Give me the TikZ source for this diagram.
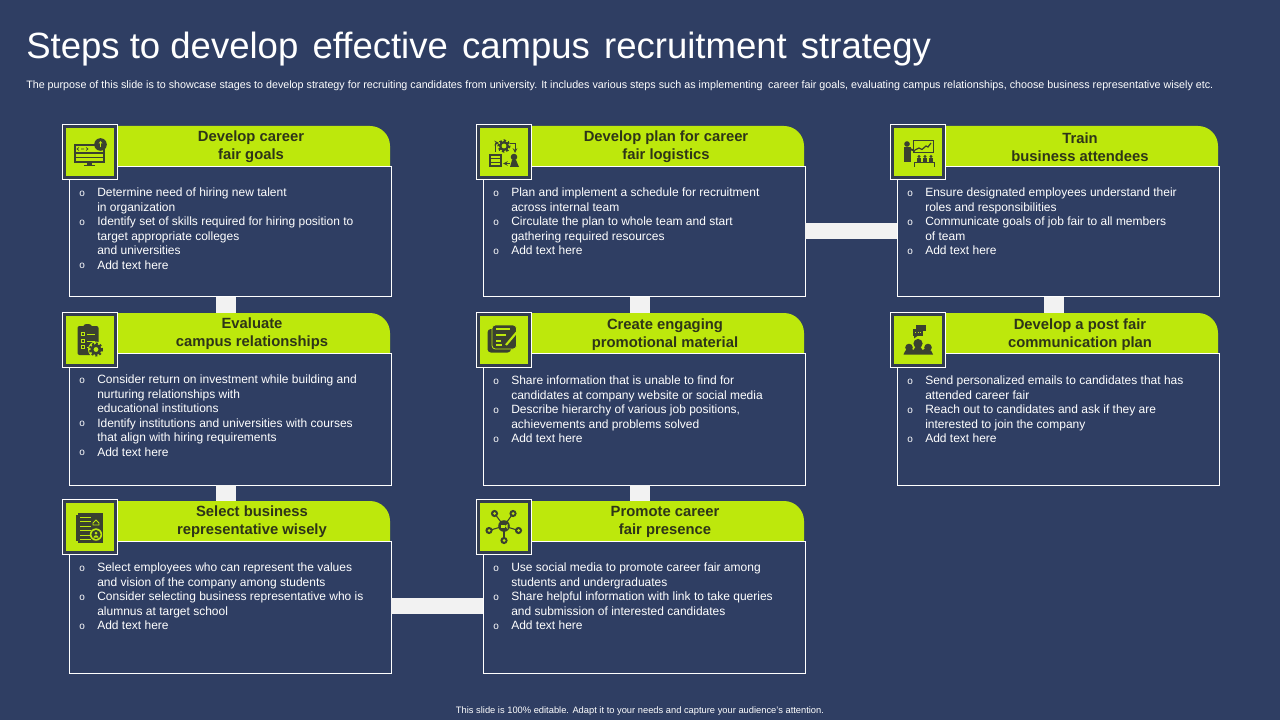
\documentclass[tikz,border=0pt]{standalone}
\usepackage{fontspec}
\setmainfont{Liberation Sans}
\usetikzlibrary{calc}

\definecolor{slidebg}{HTML}{2F3E63}
\definecolor{limehead}{HTML}{BDE80C}
\definecolor{darkink}{HTML}{2E3518}
\definecolor{icondark}{HTML}{3A4130}
\definecolor{framedark}{HTML}{333D50}
\definecolor{barwhite}{HTML}{F2F2F2}

\newcommand{\bl}{\makebox[13.5pt][l]{\raisebox{0.3pt}{\fontsize{7.5}{8}\selectfont o}}}
\newcommand{\cn}{\hspace*{13.5pt}}

\tikzset{
  headfill/.style={fill=limehead},
  cardbody/.style={draw=white, line width=0.7pt, fill=slidebg, minimum width=241.5pt, inner sep=0pt, outer sep=0pt},
  headtext/.style={font=\fontsize{11.1}{13.4}\selectfont\bfseries, text=darkink, align=center, minimum height=30pt, inner sep=0pt},
  bodytext/.style={font=\fontsize{9}{10.85}\selectfont, text=white, align=left, anchor=north west, inner sep=0pt},
  iconframe/.style={draw=white, line width=0.8pt, fill=framedark, minimum size=41.5pt, inner sep=0pt},
  iconbox/.style={fill=limehead, minimum size=35.5pt, inner sep=0pt},
  linkbar/.style={draw=barwhite},
  inkfill/.style={fill=icondark},
  inkline/.style={draw=icondark, line width=0.8pt},
  cutline/.style={draw=limehead, line width=0.6pt},
}

\begin{document}
\begin{tikzpicture}[x=0.75pt, y=-0.75pt]
\fill[slidebg] (0,0) rectangle (1280,720);
\useasboundingbox (0,0) rectangle (1280,720);

% title lines
\node[anchor=west, inner sep=0pt, text=white, font=\fontsize{27.4}{30}\selectfont] (title) at (26,49.5)
  {Steps to develop\hspace{3pt} effective\hspace{3pt} campus\hspace{3pt} recruitment\hspace{3pt} strategy};
\node[anchor=west, inner sep=0pt, text=white, font=\fontsize{8.05}{9}\selectfont] (subtitle) at (26,86)
  {The purpose of this slide is to showcase stages to develop strategy for recruiting candidates from university. It includes various steps such as implementing\hspace{2pt} career fair goals, evaluating campus relationships, choose business representative wisely etc.};
\node[inner sep=0pt, text=white, font=\fontsize{7}{8}\selectfont] (footer) at (640,711)
  {This slide is 100\% editable. Adapt it to your needs and capture your audience's attention.};

% card bodies
\node[cardbody, minimum height=98pt] (goalsbody) at (230,231.5) {};
\node[cardbody, minimum height=98pt] (logibody) at (644,231.5) {};
\node[cardbody, minimum height=98pt] (trainbody) at (1058,231.5) {};
\node[cardbody, minimum height=99pt] (evalbody) at (230,419) {};
\node[cardbody, minimum height=99pt] (promobody) at (644,419) {};
\node[cardbody, minimum height=99pt] (postbody) at (1058,419) {};
\node[cardbody, minimum height=99pt] (selectbody) at (230,607) {};
\node[cardbody, minimum height=99pt] (presbody) at (644,607) {};

% bars between the cards
\draw[linkbar, line width=15pt] ([xshift=-3pt]goalsbody.south) -- ([xshift=-3pt]evalbody.north);
\draw[linkbar, line width=15pt] ([xshift=-3pt]evalbody.south) -- ([xshift=-3pt]selectbody.north);
\draw[linkbar, line width=15pt] ([xshift=-3pt]logibody.south) -- ([xshift=-3pt]promobody.north);
\draw[linkbar, line width=15pt] ([xshift=-3pt]promobody.south) -- ([xshift=-3pt]presbody.north);
\draw[linkbar, line width=15pt] ([xshift=-3pt]trainbody.south) -- ([xshift=-3pt]postbody.north);
\draw[linkbar, line width=12pt] (logibody.east) -- (trainbody.west);
\draw[linkbar, line width=12pt] ([yshift=1pt]selectbody.east) -- ([yshift=1pt]presbody.west);

% lime heads
\foreach \hx/\hy in {118/126,532/126,946/126,118/313,532/313,946/313,118/501,532/501}
  \fill[headfill] (\hx,\hy+40) -- (\hx,\hy) [rounded corners=15pt] -- (\hx+272,\hy) [sharp corners] -- (\hx+272,\hy+40) -- cycle;
\foreach \bname in {goalsbody,logibody,trainbody,evalbody,promobody,postbody,selectbody,presbody}
  \draw[white, line width=0.7pt] (\bname.north west) -- (\bname.north east);

% titles in the heads
\node[headtext] (goalshead) at (251,147) {Develop career\\fair goals};
\node[headtext] (logihead) at (666,147) {Develop plan for career\\fair logistics};
\node[headtext] (trainhead) at (1080,147) {Train\\business attendees};
\node[headtext] (evalhead) at (252,334) {Evaluate\\campus relationships};
\node[headtext] (promohead) at (665,335) {Create engaging\\promotional material};
\node[headtext] (posthead) at (1080,335) {Develop a post fair\\communication plan};
\node[headtext] (selecthead) at (252,522) {Select business\\representative wisely};
\node[headtext] (preshead) at (665,522) {Promote career\\fair presence};

% card texts
\node[bodytext] (goalstext) at (79,188) {\bl Determine need of hiring new talent\\\cn in organization\\\bl Identify set of skills required for hiring position to\\\cn target appropriate colleges\\\cn and universities\\\bl Add text here};
\node[bodytext] (logitext) at (493,188) {\bl Plan and implement a schedule for recruitment\\\cn across internal team\\\bl Circulate the plan to whole team and start\\\cn gathering required resources\\\bl Add text here};
\node[bodytext] (traintext) at (907,188) {\bl Ensure designated employees understand their\\\cn roles and responsibilities\\\bl Communicate goals of job fair to all members\\\cn of team\\\bl Add text here};
\node[bodytext] (evaltext) at (79,375) {\bl Consider return on investment while building and\\\cn nurturing relationships with\\\cn educational institutions\\\bl Identify institutions and universities with courses\\\cn that align with hiring requirements\\\bl Add text here};
\node[bodytext] (promotext) at (493,376) {\bl Share information that is unable to find for\\\cn candidates at company website or social media\\\bl Describe hierarchy of various job positions,\\\cn achievements and problems solved\\\bl Add text here};
\node[bodytext] (posttext) at (907,376) {\bl Send personalized emails to candidates that has\\\cn attended career fair\\\bl Reach out to candidates and ask if they are\\\cn interested to join the company\\\bl Add text here};
\node[bodytext] (selecttext) at (79,563) {\bl Select employees who can represent the values\\\cn and vision of the company among students\\\bl Consider selecting business representative who is\\\cn alumnus at target school\\\bl Add text here};
\node[bodytext] (prestext) at (493,563) {\bl Use social media to promote career fair among\\\cn students and undergraduates\\\bl Share helpful information with link to take queries\\\cn and submission of interested candidates\\\bl Add text here};

% icon frames
\foreach \iname/\ix/\iy in {goalsicon/90/152,logiicon/504/152,trainicon/918/152,evalicon/90/340,promoicon/504/340,posticon/918/340,selecticon/90/527,presicon/504/527}{
  \node[iconframe] (\iname) at (\ix,\iy) {};
  \node[iconbox] at (\iname.center) {};
}

% monitor
\begin{scope}[shift={(goalsicon.center)}]
\draw[inkline] (-15,-7) rectangle (14,10);
\draw[inkline] (-15,1) -- (14,1);
\draw[inkline] (-15,5.5) -- (14,5.5);
\draw[inkline, line width=0.5pt] (-11,-4.5) -- (-13,-3) -- (-11,-1.5) (-9,-3) -- (-6,-3) (-4,-4.5) -- (-2,-3) -- (-4,-1.5);
\fill[inkfill] (-3,10) rectangle (2,13);
\fill[inkfill] (-6.5,13) rectangle (5,14.5);
\fill[inkfill] (10.5,-7.5) circle (6.3);
\draw[cutline, line width=0.9pt] (10.5,-4.5) -- (10.5,-9.5);
\fill[limehead] (8.5,-8.5) -- (10.5,-11) -- (12.5,-8.5) -- cycle;
\end{scope}

% gear and plan
\begin{scope}[shift={(logiicon.center)}]
\fill[inkfill] (0,-6) circle (5);
\draw[inkline, line width=1.6pt, dash pattern=on 1.6pt off 1.6pt] (0,-6) circle (5.6);
\fill[limehead] (0,-6) circle (2.4);
\draw[inkline, line width=0.6pt, ->, >=stealth] (-9,0) -- (-9,-9) -- (-5,-9);
\draw[inkline, line width=0.6pt, ->, >=stealth] (6,-9) -- (11,-9) -- (11,1);
\draw[inkline, line width=1pt] (-14,3) rectangle (-3,14);
\draw[inkline, line width=1pt] (-14,6.5) -- (-3,6.5) (-14,10.5) -- (-3,10.5);
\draw[inkline, line width=0.6pt, ->, >=stealth] (6,11.5) -- (-1,11.5);
\fill[inkfill] (10,5) circle (3.3);
\fill[inkfill] (6,15) -- (8,8) -- (12,8) -- (15,15) -- cycle;
\end{scope}

% trainer with board
\begin{scope}[shift={(trainicon.center)}]
\fill[inkfill] (-11,-8) circle (2.8);
\fill[inkfill] (-14,-4.5) rectangle (-7,10);
\draw[inkline, line width=1.4pt] (-8,-3) -- (-3,-1);
\draw[inkline, line width=0.6pt] (-5,-11.5) rectangle (15,0);
\draw[inkline, line width=0.9pt] (-3,-2) -- (1,-4) -- (4,-2.5) -- (8,-6) -- (10,-5) -- (13,-9);
\foreach \px in {1,7,13}{
  \fill[inkfill] (\px,4.5) circle (1.7);
  \fill[inkfill] (\px-2.3,6.5) rectangle (\px+2.3,10);
}
\draw[inkline, line width=0.5pt] (-4,15) -- (-4,10.5) -- (16,10.5) -- (16,15);
\end{scope}

% clipboard
\begin{scope}[shift={(evalicon.center)}]
\fill[inkfill, rounded corners=1.5pt] (-12.5,-14) rectangle (8.5,15);
\fill[inkfill, rounded corners=2pt] (-6.5,-16) rectangle (1.5,-12);
\foreach \ly in {-6,1,7}{
  \draw[cutline] (-8.5,\ly-1.5) rectangle (-5.5,\ly+1.5);
  \draw[cutline] (-3,\ly) -- (5,\ly);
}
\fill[limehead] (6,9.5) circle (8);
\fill[inkfill] (6,9.5) circle (5.6);
\draw[inkline, line width=1.5pt, dash pattern=on 1.5pt off 1.5pt] (6,9.5) circle (6);
\fill[limehead] (6,9.5) circle (2.4);
\end{scope}

% notes with pen
\begin{scope}[shift={(promoicon.center)}]
\fill[inkfill, rounded corners=2.5pt] (-16.5,-11) rectangle (7,12.5);
\draw[cutline, fill=icondark, rounded corners=2.5pt] (-12,-15) rectangle (12.5,9);
\draw[cutline, line width=0.9pt] (-8,-11) -- (6,-11) (-8,-5) -- (2,-5) (-8,1) -- (-3,1) (-8,5) -- (-2,5);
\draw[cutline, line width=1.6pt] (15.5,-11) -- (2,5);
\end{scope}

% group with bubbles
\begin{scope}[shift={(posticon.center)}]
\fill[inkfill] (0,3.5) circle (4.6);
\fill[inkfill] (-9,7.5) circle (3.8);
\fill[inkfill] (10,7.5) circle (3.8);
\fill[inkfill] (-14.5,14.5) .. controls (-14,8) and (-5,8) .. (-4.5,10) .. controls (-3,5) and (3,5) .. (4.5,10) .. controls (6,8) and (14,8) .. (15,14.5) -- cycle;
\fill[inkfill] (-2.5,-15) rectangle (8,-9.5);
\fill[inkfill] (-5,-11.5) rectangle (4.5,-4);
\fill[inkfill] (-4,-4.5) -- (0,-4.5) -- (-4,-1.5) -- cycle;
\draw[cutline, dash pattern=on 1pt off 1pt] (-3,-8) -- (3,-8);
\end{scope}

% document with person
\begin{scope}[shift={(selecticon.center)}]
\fill[inkfill] (-14.5,-12) rectangle (-12.5,14);
\fill[inkfill] (-12,-14) rectangle (13,15.5);
\foreach \ly in {-10,-5.5,-1,3.5,8,12}
  \draw[cutline] (-10,\ly) -- (1,\ly);
\draw[cutline] (3,-2) -- (3,-4) -- (6,-7) -- (9,-4) -- (9,-2) -- cycle;
\fill[limehead] (6,7.5) circle (6.2);
\fill[inkfill] (6,7.5) circle (4.6);
\fill[limehead] (6,6) circle (1.5);
\fill[limehead] (3.4,10.5) .. controls (4,7.5) and (8,7.5) .. (8.6,10.5) -- cycle;
\end{scope}

% hub
\begin{scope}[shift={(presicon.center)}]
\foreach \hx/\hy in {-9.5/-13.5,9/-13.5,-15/3.5,14.5/3.5,0/13.5}{
  \draw[inkline] (0,-1) -- (\hx,\hy);
  \fill[inkfill] (\hx,\hy) circle (3.6);
  \fill[limehead] (\hx,\hy) circle (1.5);
}
\fill[inkfill] (0,-1) circle (5.8);
\fill[limehead] (-3,-2.5) rectangle (1,1);
\fill[limehead] (1,-1) -- (3.5,-3) -- (3.5,2) -- cycle;
\end{scope}
\end{tikzpicture}
\end{document}
